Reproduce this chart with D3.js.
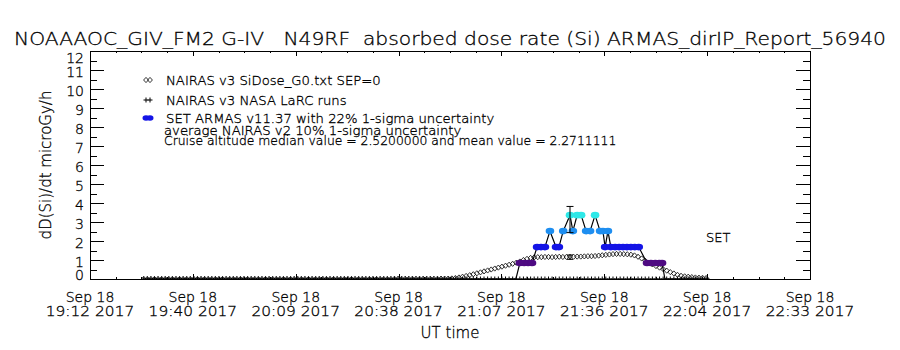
<!DOCTYPE html>
<html>
<head>
<meta charset="utf-8">
<script src="https://cdn.jsdelivr.net/npm/d3@7"></script>
<style>
  body { margin: 0; background: #fff; }
  text { font-family: "DejaVu Sans", sans-serif; font-weight: 200; fill: #000; stroke: #000; stroke-width: 0.3; white-space: pre; }
</style>
</head>
<body>
<svg id="chart" width="900" height="350"></svg>
<script>
// ---- data ----
const titleText = "NOAAAOC_GIV_FM2 G-IV   N49RF  absorbed dose rate (Si) ARMAS_dirIP_Report_56940";
const timeRange = ["19:12:00", "22:33:00"];
const xTickDates = ["Sep 18", "Sep 18", "Sep 18", "Sep 18", "Sep 18", "Sep 18", "Sep 18", "Sep 18"];
const xTickTimes = ["19:12 2017", "19:40 2017", "20:09 2017", "20:38 2017", "21:07 2017", "21:36 2017", "22:04 2017", "22:33 2017"];
const yTicks = [0, 1, 2, 3, 4, 5, 6, 7, 8, 9, 10, 11, 12];

// NAIRAS v3 model, one value per minute from nairasStart
const nairasStart = "19:27:00";
const nairasDose = [
  0, 0, 0, 0, 0, 0, 0, 0, 0, 0, 0, 0, 0, 0, 0, 0, 0, 0, 0, 0,
  0, 0, 0, 0, 0, 0, 0, 0, 0, 0, 0, 0, 0, 0, 0, 0, 0, 0, 0, 0,
  0, 0, 0, 0, 0, 0, 0, 0, 0, 0, 0, 0, 0, 0, 0, 0, 0, 0, 0, 0,
  0, 0, 0, 0, 0, 0, 0, 0, 0, 0, 0.01, 0.01, 0.01, 0.01, 0.01, 0.01, 0.01, 0.01, 0.01, 0.01,
  0.01, 0.01, 0.01, 0.02, 0.02, 0.02,
  0.03, 0.05, 0.08, 0.12, 0.16, 0.20, 0.25, 0.30, 0.35, 0.40, 0.45, 0.50, 0.55, 0.60, 0.65, 0.70, 0.75, 0.80, 0.86, 0.92,
  1.00, 1.06, 1.11, 1.14,
  1.15, 1.15, 1.16, 1.16, 1.15, 1.16, 1.17, 1.16, 1.16, 1.17, 1.17, 1.18, 1.18, 1.19, 1.20, 1.20,
  1.21, 1.23, 1.25, 1.27, 1.29, 1.31, 1.32, 1.32, 1.31, 1.30, 1.28, 1.24, 1.17, 1.08, 0.96, 0.86, 0.77, 0.68, 0.60, 0.52,
  0.44, 0.36, 0.29, 0.22, 0.17, 0.14, 0.12, 0.10, 0.08, 0.07, 0.06, 0.05
];
// NASA LaRC runs on the same minute grid (all at zero)
const larcDose = [
  0, 0, 0, 0, 0, 0, 0, 0, 0, 0, 0, 0, 0, 0, 0, 0, 0, 0, 0, 0,
  0, 0, 0, 0, 0, 0, 0, 0, 0, 0, 0, 0, 0, 0, 0, 0, 0, 0, 0, 0,
  0, 0, 0, 0, 0, 0, 0, 0, 0, 0, 0, 0, 0, 0, 0, 0, 0, 0, 0, 0,
  0, 0, 0, 0, 0, 0, 0, 0, 0, 0, 0, 0, 0, 0, 0, 0, 0, 0, 0, 0,
  0, 0, 0, 0, 0, 0, 0, 0, 0, 0, 0, 0, 0, 0, 0, 0, 0, 0, 0, 0,
  0, 0, 0, 0, 0, 0, 0, 0, 0, 0, 0, 0, 0, 0, 0, 0, 0, 0, 0, 0,
  0, 0, 0, 0, 0, 0, 0, 0, 0, 0, 0, 0, 0, 0, 0, 0, 0, 0, 0, 0,
  0, 0, 0, 0, 0, 0, 0, 0, 0, 0, 0, 0, 0, 0, 0, 0, 0, 0
];

// SET ARMAS measurements
const armasTimes = ["19:27:00", "21:10:54", "21:12:00", "21:13:12", "21:14:18", "21:15:24", "21:16:48", "21:17:54",
  "21:19:00", "21:20:24", "21:22:06", "21:22:54", "21:24:06", "21:26:00", "21:26:48", "21:28:00", "21:29:06",
  "21:30:30", "21:31:36", "21:33:00", "21:34:24", "21:35:12", "21:35:48", "21:36:36", "21:37:24", "21:38:36",
  "21:39:42", "21:40:48", "21:41:54", "21:43:00", "21:44:06", "21:45:12", "21:47:30", "21:48:36", "21:49:48",
  "21:50:54", "21:51:42", "21:52:30", "22:05:00"];
const armasDose = [0, 0, 0.84, 0.84, 0.84, 0.84, 1.68, 1.68, 1.68, 2.52, 1.68, 1.68, 2.52, 3.36, 2.52, 3.36, 3.36,
  2.52, 2.52, 3.36, 2.52, 2.52, 1.68, 2.52, 1.68, 1.68, 1.68, 1.68, 1.68, 1.68, 1.68, 1.68, 0.84, 0.84, 0.84,
  0.84, 0.84, 0, 0];
const doseLevels = [0.84, 1.68, 2.52, 3.36];
const levelColors = ["#4e0a82", "#1414e6", "#1e8ef0", "#2ee8e8"];

// uncertainty bars
const errTime = "21:26:00";
const armasErr = { value: 3.13, sigma: 0.22 };
const nairasErr = { value: 1.15, sigma: 0.10 };

const legendLabels = ["NAIRAS v3 SiDose_G0.txt SEP=0", "NAIRAS v3 NASA LaRC runs",
  "SET ARMAS v11.37 with 22% 1-sigma uncertainty"];
const noteLines = ["average NAIRAS v2 10% 1-sigma uncertainty",
  "Cruise altitude median value = 2.5200000 and mean value = 2.2711111"];

// ---- helpers ----
function secs(s) {
  const p = s.split(":").map(Number);
  return p[0] * 3600 + p[1] * 60 + (p[2] || 0);
}
// the original vector font runs wider than DejaVu, stretch a bit
function widen(sel, k) {
  sel.each(function() {
    const w = this.getComputedTextLength();
    d3.select(this).attr("textLength", w * k).attr("lengthAdjust", "spacingAndGlyphs");
  });
}

const svg = d3.select("#chart");
const m = { left: 90, right: 810, top: 51, bottom: 279 };

const x = d3.scaleLinear().domain(timeRange.map(secs)).range([m.left, m.right]);
const y = d3.scaleLinear().domain([0, 12]).range([m.bottom, m.top]);

const t0 = x.domain()[0], t1 = x.domain()[1];
const nMajor = xTickTimes.length - 1;
const xMajor = xTickTimes.map((d, i) => t0 + (t1 - t0) * i / nMajor);
const xMinor = d3.range(0, nMajor * 4 + 1).map(i => t0 + (t1 - t0) * i / (nMajor * 4));
const yMinor = yTicks.slice(1).map(v => v - 0.5);

// title
svg.append("text")
  .attr("x", 450).attr("y", 45)
  .attr("text-anchor", "middle")
  .attr("font-size", 18.5)
  .attr("textLength", 872).attr("lengthAdjust", "spacingAndGlyphs")
  .text(titleText);

// clip
svg.append("clipPath").attr("id", "plotclip")
  .append("rect")
  .attr("x", m.left).attr("y", m.top)
  .attr("width", m.right - m.left).attr("height", m.bottom - m.top + 0.5);

const plot = svg.append("g").attr("clip-path", "url(#plotclip)");

// NAIRAS diamonds
const nStart = secs(nairasStart);
const nairasPts = nairasDose.map((v, i) => ({ t: nStart + i * 60, v: v }));
const diamond = "M0,-2.6L2.4,0L0,2.6L-2.4,0Z";
plot.append("g").selectAll("path")
  .data(nairasPts)
  .enter().append("path")
    .attr("d", diamond)
    .attr("transform", d => "translate(" + x(d.t) + "," + y(d.v) + ")")
    .attr("fill", "none")
    .attr("stroke", "#000")
    .attr("stroke-width", 0.8);

// LaRC plus signs
const plus = "M-2.5,0H2.5M0,-2.5V2.5";
plot.append("g").selectAll("path")
  .data(larcDose.map((v, i) => ({ t: nStart + i * 60, v: v })))
  .enter().append("path")
    .attr("d", plus)
    .attr("transform", d => "translate(" + x(d.t) + "," + y(d.v) + ")")
    .attr("stroke", "#000")
    .attr("stroke-width", 1);

// ARMAS line + dots
const armasPts = armasTimes.map((t, i) => ({ t: secs(t), v: armasDose[i] }));
plot.append("path")
  .datum(armasPts)
  .attr("fill", "none")
  .attr("stroke", "#000")
  .attr("stroke-width", 1.2)
  .attr("d", d3.line().x(d => x(d.t)).y(d => y(d.v)));

function levelColor(v) {
  const i = d3.leastIndex(doseLevels, a => Math.abs(a - v));
  return levelColors[i];
}
plot.append("g").selectAll("ellipse")
  .data(armasPts.filter(d => d.v > 0))
  .enter().append("ellipse")
    .attr("cx", d => x(d.t))
    .attr("cy", d => y(d.v))
    .attr("rx", 4.3).attr("ry", 3.3)
    .attr("fill", d => levelColor(d.v));

// error bars
function errBar(e, cap) {
  const cx = x(secs(errTime));
  const lo = y(e.value * (1 - e.sigma)), hi = y(e.value * (1 + e.sigma));
  const g = plot.append("g").attr("stroke", "#000").attr("stroke-width", 1);
  g.append("line").attr("x1", cx).attr("x2", cx).attr("y1", lo).attr("y2", hi);
  g.append("line").attr("x1", cx - cap).attr("x2", cx + cap).attr("y1", lo).attr("y2", lo);
  g.append("line").attr("x1", cx - cap).attr("x2", cx + cap).attr("y1", hi).attr("y2", hi);
}
errBar(armasErr, 3.5);
errBar(nairasErr, 3);

// ---- axes box and ticks ----
svg.append("rect")
  .attr("x", m.left).attr("y", m.top)
  .attr("width", m.right - m.left).attr("height", m.bottom - m.top)
  .attr("fill", "none").attr("stroke", "#000").attr("stroke-width", 1)
  .attr("shape-rendering", "crispEdges");

function ticks(axis, tr, vals, len) {
  const g = svg.append("g").attr("transform", tr)
    .call(axis.tickValues(vals).tickSize(-len).tickFormat(""));
  g.select(".domain").remove();
  g.selectAll("line").attr("stroke", "#000").attr("shape-rendering", "crispEdges");
}
const xLen = 0.02 * (m.bottom - m.top), yLen = 0.02 * (m.right - m.left);
ticks(d3.axisBottom(x), `translate(0,${m.bottom})`, xMajor, xLen);
ticks(d3.axisBottom(x), `translate(0,${m.bottom})`, xMinor, xLen / 2);
ticks(d3.axisTop(x), `translate(0,${m.top})`, xMajor, xLen);
ticks(d3.axisTop(x), `translate(0,${m.top})`, xMinor, xLen / 2);
ticks(d3.axisLeft(y), `translate(${m.left},0)`, yTicks, yLen);
ticks(d3.axisLeft(y), `translate(${m.left},0)`, yMinor, yLen / 2);
ticks(d3.axisRight(y), `translate(${m.right},0)`, yTicks, yLen);
ticks(d3.axisRight(y), `translate(${m.right},0)`, yMinor, yLen / 2);

// y labels
svg.append("g").selectAll("text")
  .data(yTicks)
  .enter().append("text")
    .attr("x", 84)
    .attr("y", d => Math.min(Math.max(y(d) + 2, 58), 275) + 5)
    .attr("text-anchor", "end")
    .attr("font-size", 14)
    .text(d => d);

// x labels
const xl = svg.append("g").selectAll("g")
  .data(xMajor)
  .enter().append("g")
    .attr("transform", d => `translate(${x(d)},0)`);
xl.append("text").attr("y", 302).attr("text-anchor", "middle").attr("font-size", 14)
  .text((d, i) => xTickDates[i]);
xl.append("text").attr("y", 316).attr("text-anchor", "middle").attr("font-size", 14)
  .text((d, i) => xTickTimes[i])
  .call(widen, 1.1);

// axis titles
svg.append("text")
  .attr("x", 450).attr("y", 338)
  .attr("text-anchor", "middle").attr("font-size", 15)
  .text("UT time");
svg.append("text")
  .attr("transform", `translate(51,${(m.top + m.bottom) / 2}) rotate(-90)`)
  .attr("text-anchor", "middle").attr("font-size", 15)
  .text("dD(Si)/dt microGy/h");

// ---- legend ----
const legY = [80, 100, 118];
const leg = svg.append("g");
[-2, 2].forEach(dx => {
  leg.append("path").attr("d", diamond)
    .attr("transform", `translate(${148 + dx},${legY[0]})`)
    .attr("fill", "none").attr("stroke", "#000").attr("stroke-width", 0.8);
  leg.append("path").attr("d", plus)
    .attr("transform", `translate(${148 + dx},${legY[1]})`)
    .attr("stroke", "#000").attr("stroke-width", 1);
  leg.append("ellipse").attr("cx", 148 + dx).attr("cy", legY[2])
    .attr("rx", 3.5).attr("ry", 2.8).attr("fill", levelColors[1]);
});
leg.selectAll("text.lab")
  .data(legendLabels)
  .enter().append("text")
    .attr("class", "lab")
    .attr("x", 166).attr("y", (d, i) => legY[i] + 4.5)
    .attr("font-size", 12)
    .text(d => d)
    .call(widen, 1.1);
leg.append("text").attr("x", 164).attr("y", 135).attr("font-size", 12).text(noteLines[0])
  .call(widen, 1.1);
leg.append("text").attr("x", 164).attr("y", 145).attr("font-size", 12).text(noteLines[1])
  .call(widen, 1.03);

// SET tag
svg.append("text").attr("x", 706).attr("y", 242).attr("font-size", 13).text("SET");
</script>
</body>
</html>
